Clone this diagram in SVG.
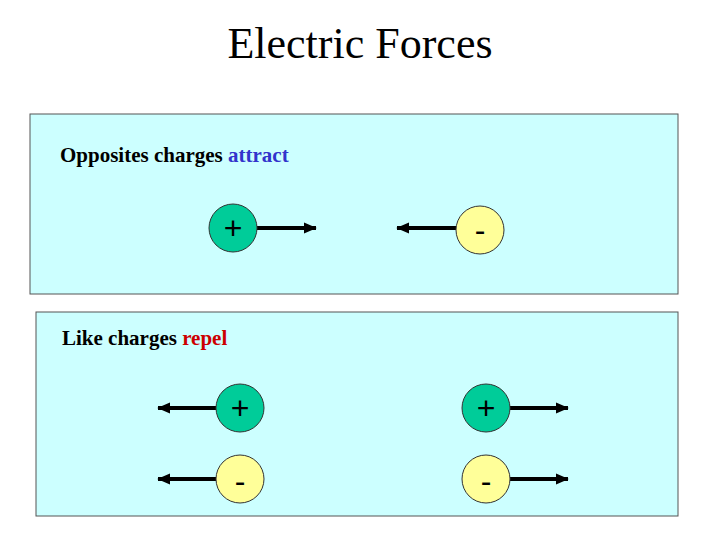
<svg xmlns="http://www.w3.org/2000/svg" width="720" height="540" viewBox="0 0 720 540">
<style>
.box{fill:#CCFFFF;stroke:#555;stroke-width:1}
.pos{fill:#00CC99;stroke:#333;stroke-width:1}
.neg{fill:#FFFF99;stroke:#333;stroke-width:1}
.sym{font-family:"Liberation Sans",Arial,sans-serif;font-size:32px;text-anchor:middle;fill:#000}
.lbl{font-family:"Liberation Serif","Times New Roman",serif;font-size:21px;font-weight:bold;fill:#000}
.arr{stroke:#000;stroke-width:4;fill:none;marker-end:url(#ah)}
</style>
<defs><marker id="ah" markerWidth="4" markerHeight="4" refX="3" refY="2" orient="auto" markerUnits="strokeWidth"><path d="M0,0.6 L3.2,2 L0,3.4 Z" fill="#000"/></marker></defs>
<rect width="720" height="540" fill="#fff"/>
<text x="360" y="58" text-anchor="middle" font-family="Liberation Serif,'Times New Roman',serif" font-size="44">Electric Forces</text>
<rect class="box" x="30" y="114" width="648" height="180"/>
<rect class="box" x="36" y="312" width="642" height="204"/>
<text class="lbl" x="60" y="162">Opposites charges <tspan fill="#3333CC">attract</tspan></text>
<text class="lbl" x="62" y="345">Like charges <tspan fill="#CC0000">repel</tspan></text>
<g id="connectors">
<line class="arr" x1="257" y1="228" x2="316" y2="228"/>
<line class="arr" x1="456" y1="228" x2="397" y2="228"/>
<line class="arr" x1="216" y1="408" x2="158" y2="408"/>
<line class="arr" x1="510" y1="408" x2="568" y2="408"/>
<line class="arr" x1="216" y1="479" x2="158" y2="479"/>
<line class="arr" x1="510" y1="479" x2="568" y2="479"/>
</g>
<g id="top-pos"><circle class="pos" cx="233" cy="228" r="24"/><text class="sym" x="233" y="239">+</text></g>
<g id="top-neg"><circle class="neg" cx="480" cy="230" r="24"/><text class="sym" x="480" y="241">-</text></g>
<g id="bl-pos"><circle class="pos" cx="240" cy="408" r="24"/><text class="sym" x="240" y="419">+</text></g>
<g id="br-pos"><circle class="pos" cx="486" cy="408" r="24"/><text class="sym" x="486" y="419">+</text></g>
<g id="bl-neg"><circle class="neg" cx="240" cy="479" r="24"/><text class="sym" x="240" y="492">-</text></g>
<g id="br-neg"><circle class="neg" cx="486" cy="479" r="24"/><text class="sym" x="486" y="492">-</text></g>
</svg>
